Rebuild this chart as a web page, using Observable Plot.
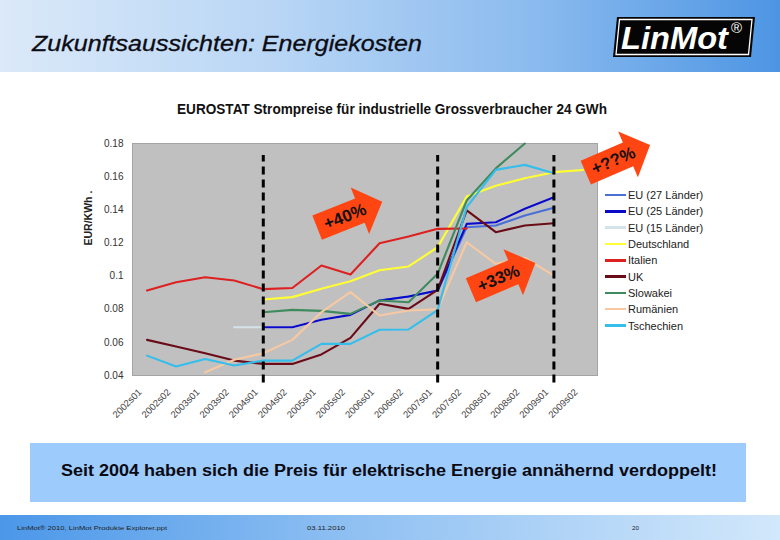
<!DOCTYPE html>
<html>
<head>
<meta charset="utf-8">
<script src="https://cdn.jsdelivr.net/npm/d3@7"></script>
<script src="https://cdn.jsdelivr.net/npm/@observablehq/plot@0.6"></script>
<style>
  html, body { margin: 0; padding: 0; background: #fff; }
  #page { position: relative; width: 780px; height: 540px; overflow: hidden; background: #fff; font-family: "Liberation Sans", Arial, sans-serif; }
  #header { position: absolute; left: 0; top: 0; width: 780px; height: 72px; background: linear-gradient(to right, #dbe9f9 0%, #b9d6f5 35%, #88b9ee 70%, #4d95e3 100%); }
  #footer { position: absolute; left: 0; top: 515px; width: 780px; height: 25px; background: linear-gradient(to right, #4b97e9 0%, #8fc0f2 45%, #d2e8fb 100%); }
  #capbox { position: absolute; left: 30px; top: 443px; width: 716px; height: 59px; background: #9dcbfc; }
  #overlay { position: absolute; left: 0; top: 0; }
  #chart { position: absolute; left: 0; top: 130px; }
  #legend { position: absolute; left: 605px; top: 187px; font-size: 11px; color: #222; }
  .li { height: 16.3px; display: flex; align-items: center; white-space: nowrap; }
  .sw { width: 21px; height: 2.5px; margin-right: 2px; }
</style>
</head>
<body>
<div id="page">
  <div id="header"></div>
  <div id="capbox"></div>
  <div id="footer"></div>
  <div id="chart"></div>
  <div id="legend"></div>
  <svg id="overlay" width="780" height="540"></svg>
</div>
<script>
// ---- data ----
const categories = ["2002s01","2002s02","2003s01","2003s02","2004s01","2004s02","2005s01","2005s02",
                    "2006s01","2006s02","2007s01","2007s02","2008s01","2008s02","2009s01","2009s02"];
const yTicks = [0.04, 0.06, 0.08, 0.10, 0.12, 0.14, 0.16, 0.18];
const yTickLabels = ["0.04","0.06","0.08","0.1","0.12","0.14","0.16","0.18"];

const seriesNames = ["EU (27 Länder)","EU (25 Länder)","EU (15 Länder)","Deutschland","Italien","UK","Slowakei","Rumänien","Tschechien"];
const seriesColors = ["#4a6fd6","#0a0ac8","#d6e2ea","#ffff33","#dd2020","#6a0c18","#3f8a5e","#f7c9a2","#35bdec"];

const eu27 =        [null,null,null,null,null,null,null,null,0.0853,0.0877,0.0913,0.1295,0.1305,0.1366,0.1412,null];
const eu25 =        [null,null,null,null,0.0691,0.0691,0.0736,0.0766,0.0853,0.0877,0.0913,0.1315,0.1325,0.1406,0.1476,null];
const eu15 =        [null,null,null,0.0691,0.0691,0.0691,0.0736,0.0766,0.0853,0.0877,0.0913,0.1315,0.1325,0.1406,0.1476,null];
const deutschland = [null,null,null,null,0.0859,0.0873,0.0923,0.0969,0.1035,0.1058,0.1174,0.1480,0.1545,0.1590,0.1627,0.1640];
const italien =     [0.0913,0.0963,0.0993,0.0973,0.0921,0.0928,0.1064,0.1009,0.1198,0.1239,0.1285,0.1287,null,null,null,null];
const uk =          [0.0615,0.0575,0.0534,0.0490,0.0470,0.0470,0.0527,0.0627,0.0833,0.0802,0.0917,0.1396,0.1265,0.1305,0.1319,null];
const slowakei =    [null,null,null,null,0.0782,0.0796,0.0790,0.0772,0.0853,0.0842,0.1014,0.1456,0.1650,0.1800,null,null];
const rumaenien =   [null,null,0.0420,0.0495,0.0534,0.0615,0.0782,0.0903,0.0762,0.0792,0.0800,0.1204,0.1074,0.1110,0.1003,null];
const tschechien =  [0.0520,0.0454,0.0500,0.0460,0.0490,0.0490,0.0591,0.0591,0.0676,0.0678,0.0795,0.1416,0.1641,0.1671,0.1620,null];
const seriesValues = [eu27, eu25, eu15, deutschland, italien, uk, slowakei, rumaenien, tschechien];

const dashedAt = [4, 10, 14];                 // category indices of the dashed markers
const annoPos = [6.99, 12.27, 16.22];         // annotation arrows (category index)
const annoVal = [0.1367, 0.0994, 0.1705];     // annotation arrows (value)
const annoText = ["+40%", "+33%", "+??%"];
const annoAngle = [-21.6, -23, -23.3];

const yLabel = "EUR/KWh .";
const pageTitle = "Zukunftsaussichten: Energiekosten";
const chartTitle = "EUROSTAT Strompreise für industrielle Grossverbraucher 24 GWh";
const captionText = "Seit 2004 haben sich die Preis für elektrische Energie annähernd verdoppelt!";
const footerTexts = ["LinMot® 2010, LinMot Produkte Explorer.ppt", "03.11.2010", "20"];

// ---- build rows ----
const rowsFor = (vals) => vals.map((v, i) => ({i, v})).filter(d => d.v != null);
const drawOrder = [2, 0, 1, 3, 4, 5, 6, 7, 8];

const lineMarks = drawOrder.map(k => Plot.line(rowsFor(seriesValues[k]), {
  x: "i", y: "v", stroke: seriesColors[k], strokeWidth: 2.1, strokeLinejoin: "round"
}));

const arrowMark = (index, scales) => {
  const g = d3.create("svg:g");
  annoPos.forEach((p, k) => {
    const cx = scales.x(p), cy = scales.y(annoVal[k]);
    const a = g.append("g").attr("transform", `translate(${cx},${cy}) rotate(${annoAngle[k]})`);
    a.append("path").attr("d", "M-35,-13L11,-13L11,-25L35,0L11,25L11,13L-35,13Z").attr("fill", "#ff4512");
    a.append("text").attr("x", -5).attr("y", 1).attr("text-anchor", "middle").attr("dominant-baseline", "middle")
      .attr("font-size", 17).attr("font-weight", "bold").attr("fill", "#111")
      .attr("font-family", "'Liberation Sans', Arial, sans-serif").text(annoText[k]);
  });
  return g.node();
};

const chart = Plot.plot({
  width: 780, height: 310,
  marginTop: 13, marginBottom: 65, marginLeft: 132, marginRight: 183,
  style: {background: "transparent", fontFamily: "'Liberation Sans', Arial, sans-serif", color: "#333"},
  x: {type: "linear", domain: [-0.5, 15.5]},
  y: {domain: [0.04, 0.18]},
  marks: [
    Plot.frame({fill: "#c0c0c0", stroke: "#a4a4a4"}),
    Plot.axisY({ticks: yTicks, tickFormat: d => yTickLabels[yTicks.findIndex(t => Math.abs(t - d) < 1e-9)],
                tickSize: 0, tickPadding: 9, fontSize: 10, label: null}),
    Plot.axisX({ticks: d3.range(categories.length), tickFormat: i => categories[i], tickRotate: -45,
                tickSize: 0, tickPadding: 7, fontSize: 9.5, label: null, dx: -7, dy: 8, fill: "#444"}),
    ...lineMarks,
    Plot.ruleX(dashedAt, {y1: 0.0355, y2: 0.1728, stroke: "#000", strokeWidth: 3, strokeDasharray: "8,5"}),
    Plot.text([yLabel], {text: d => d, frameAnchor: "left", dx: -44, dy: -14, rotate: -90,
                         fontWeight: "bold", fontSize: 10.5, fill: "#222"}),
    arrowMark
  ]
});
document.getElementById("chart").appendChild(chart);

// ---- legend ----
const leg = d3.select("#legend");
seriesNames.forEach((n, k) => {
  const r = leg.append("div").attr("class", "li");
  r.append("div").attr("class", "sw").style("background", seriesColors[k]);
  r.append("span").text(n);
});

// ---- texts & logo ----
const ov = d3.select("#overlay");
const FF = "'Liberation Sans', Arial, sans-serif";
ov.append("text").attr("x", 32).attr("y", 50.7).attr("font-family", FF).attr("font-size", 22)
  .attr("font-style", "italic").attr("fill", "#0c0c14").attr("stroke", "#0c0c14").attr("stroke-width", 0.3)
  .attr("textLength", 390).attr("lengthAdjust", "spacingAndGlyphs").text(pageTitle);
// logo
ov.append("polygon").attr("points", "617,17 755,17 751,57 613,57").attr("fill", "#050505");
ov.append("polygon").attr("points", "619.5,19.5 752,19.5 748.5,54.5 616,54.5").attr("fill", "none")
  .attr("stroke", "#fff").attr("stroke-width", 1.3);
ov.append("text").attr("x", 621).attr("y", 49).attr("font-family", FF).attr("font-size", 32)
  .attr("font-style", "italic").attr("font-weight", "bold").attr("fill", "#fff")
  .attr("textLength", 107).attr("lengthAdjust", "spacingAndGlyphs").text("LinMot");
ov.append("text").attr("x", 731).attr("y", 33).attr("font-family", FF).attr("font-size", 15)
  .attr("fill", "#fff").text("®");
// chart title
ov.append("text").attr("x", 177).attr("y", 113.5).attr("font-family", FF).attr("font-size", 14.5)
  .attr("font-weight", "bold").attr("fill", "#111").attr("textLength", 430)
  .attr("lengthAdjust", "spacingAndGlyphs").text(chartTitle);
// caption
ov.append("text").attr("x", 61).attr("y", 476).attr("font-family", FF).attr("font-size", 16)
  .attr("font-weight", "bold").attr("fill", "#0a0a12").attr("textLength", 656)
  .attr("lengthAdjust", "spacingAndGlyphs").text(captionText);
// footer
[[17, 150], [307, 38], [632, 7]].forEach(([x, w], k) => {
  ov.append("text").attr("x", x).attr("y", 530).attr("font-family", FF).attr("font-size", 5.5)
    .attr("fill", "#222").attr("textLength", w).attr("lengthAdjust", "spacingAndGlyphs").text(footerTexts[k]);
});
</script>
</body>
</html>
